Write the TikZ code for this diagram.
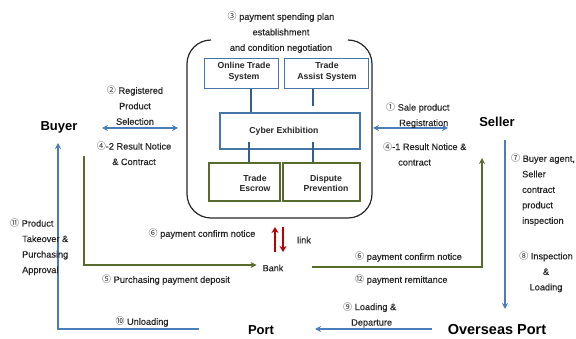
\documentclass[tikz,border=0pt]{standalone}
\usepackage{fontspec}
\setmainfont{Liberation Sans}
\newfontfamily\lf{Liberation Sans}[FakeBold=0.35]
\newfontfamily\cjk{Noto Sans CJK KR}
\usetikzlibrary{arrows.meta}
\newcommand{\cn}[1]{{\cjk\fontsize{9}{9}\selectfont #1}}
\definecolor{myblue}{HTML}{4A7EBB}
\definecolor{boxblue}{HTML}{4675AA}
\definecolor{mygreen}{HTML}{566B2C}
\definecolor{myred}{HTML}{C00000}
\definecolor{txt}{HTML}{262626}
\begin{document}
\begin{tikzpicture}[x=1pt,y=-1pt,
  lbl/.style={font=\lf\fontsize{9.2}{15.5}\selectfont, text=txt, inner sep=0pt, align=center},
  lbll/.style={font=\lf\fontsize{9.2}{15.5}\selectfont, text=txt, inner sep=0pt, align=left, anchor=west},
  actor/.style={font=\fontsize{13}{13}\selectfont\bfseries, inner sep=0pt},
  bbox/.style={draw=boxblue, line width=1.1pt, inner sep=0pt},
  gbox/.style={draw=mygreen, line width=1.5pt, inner sep=0pt},
  btxt/.style={font=\fontsize{8.7}{10.5}\selectfont\bfseries, align=center, inner sep=0pt, text=txt},
  inline/.style={draw=boxblue!80!black, line width=1.2pt},
  outer/.style={draw=black!85, line width=1.2pt},
  barrow/.style={draw=myblue, line width=1.3pt, -{Stealth[length=6pt,width=6pt]}},
  bdarrow/.style={draw=myblue, line width=1.3pt, {Stealth[length=6pt,width=6pt]}-{Stealth[length=6pt,width=6pt]}},
  garrow/.style={draw=mygreen, line width=1.4pt, -{Stealth[length=6pt,width=6pt]}},
  rarrow/.style={draw=myred, line width=1.3pt, -{Stealth[length=6pt,width=7pt]}}]
\useasboundingbox (0,0) rectangle (576,339);

% outer rounded system frame (open at top)
\draw[outer, rounded corners=24] (211,40) -- (187,40) -- (187,218) -- (372,218) -- (372,40) -- (348,40);

% title
\node[lbl] (title) at (281,32.5) {\cn{③} payment spending plan\\establishment\\and condition negotiation};

% inner boxes
\node[bbox, minimum width=74, minimum height=30] (ots) at (241.3,73.2) {};
\node[btxt] at (244,72) {Online Trade\\System};
\node[bbox, minimum width=84, minimum height=30] (tas) at (326.3,73.2) {};
\node[btxt] at (327,72) {Trade\\Assist System};
\node[bbox, minimum width=140, minimum height=36] (cyb) at (290,131) {};
\node[btxt] at (284,131) {Cyber Exhibition};
\node[gbox, minimum width=71, minimum height=38] (esc) at (244.5,182) {};
\node[btxt] at (255,183.5) {Trade\\Escrow};
\node[gbox, minimum width=77, minimum height=38] (dis) at (321.5,182) {};
\node[btxt] at (326,183.5) {Dispute\\Prevention};

\draw[inline] ([xshift=9.7]ots.south) -- ([xshift=9.7]ots.south |- cyb.north);
\draw[inline] ([xshift=-13.3]tas.south) -- ++(0,17);
\draw[inline] ([xshift=4.5]esc.north) -- ++(0,-20);
\draw[inline] ([xshift=-8.5]dis.north) -- ++(0,-20);

% actors
\node[actor] (buyer) at (59,127) {Buyer};
\node[actor] (seller) at (497,122) {Seller};
\node[actor] (port) at (261,330) {Port};
\node[actor, font=\fontsize{14.5}{14.5}\selectfont\bfseries] (oport) at (497,330) {Overseas Port};
\node[font=\lf\fontsize{9}{9}\selectfont, inner sep=0pt, text=txt] (bank) at (273,268) {Bank};

% buyer <-> system
\coordinate (bl1) at (102,128);
\coordinate (bl2) at (178,128);
\draw[bdarrow] (bl1) -- (bl2);
\node[lbl] at (135,105.5) {\cn{②} Registered\\Product\\Selection};
\node[lbl] at (134,153.5) {\cn{④}-2 Result Notice\\\& Contract};

% seller <-> system
\coordinate (sr1) at (373,128);
\coordinate (sr2) at (448,128);
\draw[bdarrow] (sr1) -- (sr2);
\node[lbll] at (386,115.5) {\cn{①} Sale product\\\hspace*{13pt}Registration};
\node[lbll] at (383,154) {\cn{④}-1 Result Notice \&\\\hspace*{15pt}contract};

% payment flow (green)
\coordinate (g0) at (84,156);
\coordinate (g1) at (84,265);
\draw[garrow] (g0) -- (g1) -- ([xshift=-6]bank.west |- g1);
\coordinate (g2) at (312,267);
\coordinate (g3) at (482,267);
\coordinate (g4) at (482,158);
\draw[garrow] (g2) -- (g3) -- (g4);

\node[lbl] at (166,280) {\cn{⑤} Purchasing payment deposit};
\node[lbl] at (202,234) {\cn{⑥} payment confirm notice};
\node[lbll] at (355,257) {\cn{⑥} payment confirm notice};
\node[lbll] at (355,280) {\cn{⑫} payment remittance};

% link arrows
\coordinate (r1) at (275,252);
\coordinate (r2) at (275,227);
\coordinate (r3) at (283,227);
\coordinate (r4) at (283,252);
\draw[rarrow] (r1) -- (r2);
\draw[rarrow] (r3) -- (r4);
\node[lbl] at (304,240) {link};

% seller -> overseas port
\coordinate (s1) at (505,140);
\coordinate (s2) at (505,309);
\draw[barrow] (s1) -- (s2);
\node[lbll] at (511,190) {\cn{⑦} Buyer agent,\\\hspace*{11pt}Seller\\\hspace*{11pt}contract\\\hspace*{11pt}product\\\hspace*{11pt}inspection};
\node[lbl] at (546,272) {\cn{⑧} Inspection\\\&\\Loading};

% overseas port -> port
\coordinate (o1) at (432,329);
\coordinate (o2) at (315,329);
\draw[barrow] (o1) -- (o2);
\node[lbll] at (343,315) {\cn{⑨} Loading \&\\\hspace*{8pt}Departure};

% port -> buyer
\coordinate (p1) at (199,329);
\coordinate (p2) at (58,329);
\coordinate (p3) at (58,143);
\draw[barrow] (p1) -- (p2) -- (p3);
\node[lbl] at (142,322) {\cn{⑩} Unloading};
\node[lbll] at (10,247) {\cn{⑪} Product\\\hspace*{12pt}Takeover \&\\\hspace*{12pt}Purchasing\\\hspace*{12pt}Approval};

\end{tikzpicture}
\end{document}
